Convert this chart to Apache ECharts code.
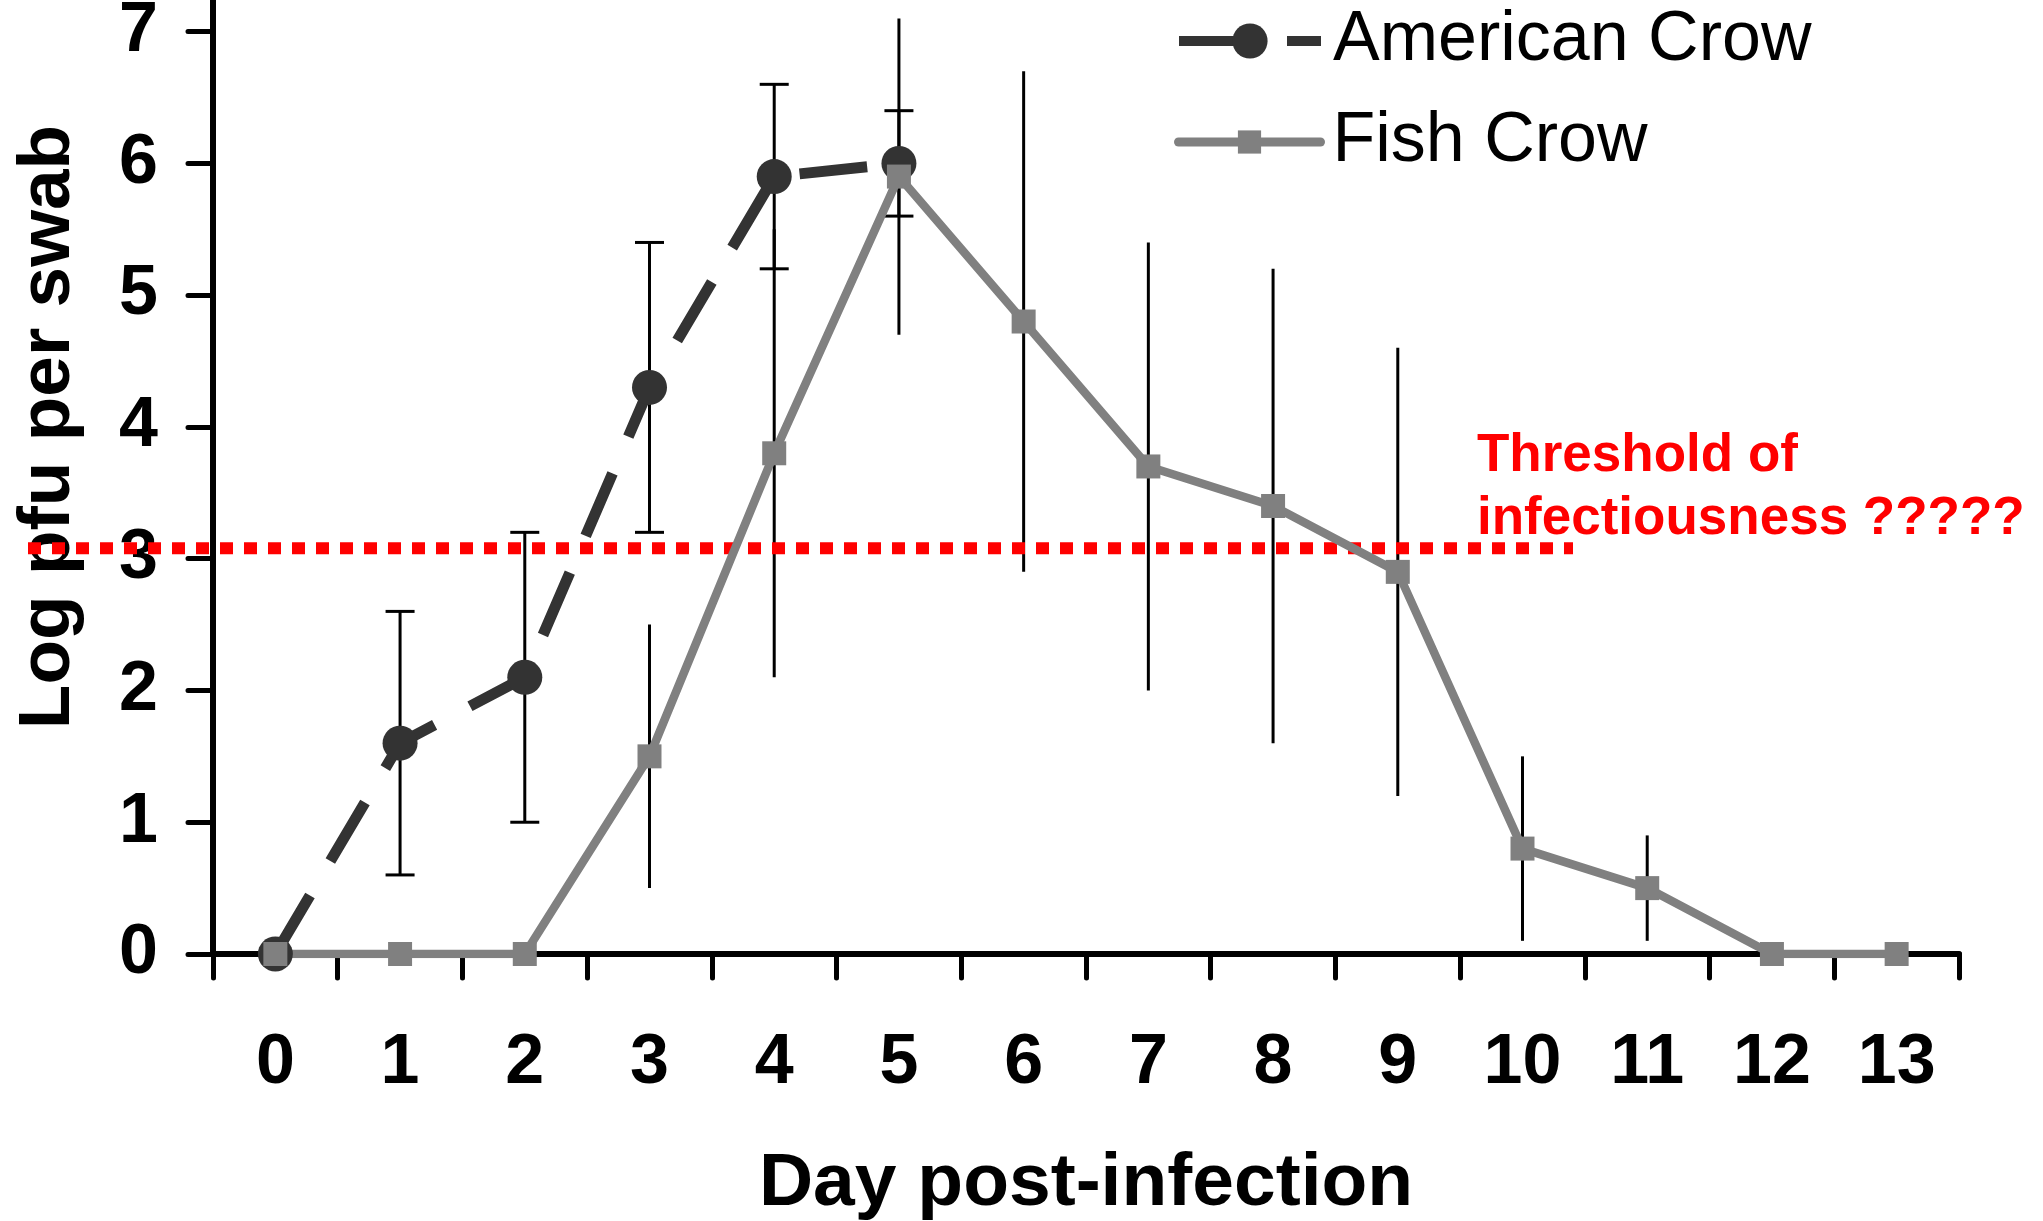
<!DOCTYPE html>
<html>
<head>
<meta charset="utf-8">
<script src="https://cdn.jsdelivr.net/npm/echarts@6/dist/echarts.min.js"></script>
<style>
  html, body { margin: 0; padding: 0; background: #fff; }
  #chart { width: 2043px; height: 1221px; }
</style>
</head>
<body>
<div id="chart"></div>
<script>
const days = ['0', '1', '2', '3', '4', '5', '6', '7', '8', '9', '10', '11', '12', '13'];
const americanCrow = [0, 1.6, 2.1, 4.3, 5.9, 6.0];
const americanCrowErr = [0, 1.0, 1.1, 1.1, 0.7, 0.4];
const fishCrow = [0, 0, 0, 1.5, 3.8, 5.9, 4.8, 3.7, 3.4, 2.9, 0.8, 0.5, 0, 0];
const fishCrowErr = [0, 0, 0, 1.0, 1.7, 1.2, 1.9, 1.7, 1.8, 1.7, 0.7, 0.4, 0, 0];
const threshold = 3.08;
const yTicks = [0, 1, 2, 3, 4, 5, 6, 7];

const FONT = '"Liberation Sans", Arial, sans-serif';

// error bars: [day, mean, err, hasCap]
const errBars = [];
americanCrow.forEach((v, i) => {
  if (americanCrowErr[i] > 0) errBars.push([i, v, americanCrowErr[i], 1]);
});
fishCrow.forEach((v, i) => {
  if (fishCrowErr[i] > 0) errBars.push([i, v, fishCrowErr[i], 0]);
});

const chart = echarts.init(document.getElementById('chart'));

const option = {
  animation: false,
  backgroundColor: '#fff',
  grid: {
    left: 213,
    right: 84,
    top: 0,
    bottom: 267,
    outerBoundsMode: 'none'
  },
  legend: [
    {
      data: ['American Crow'],
      left: 1169,
      top: 1,
      itemWidth: 142,
      itemHeight: 44,
      selectedMode: false,
      lineStyle: { width: 10 },
      textStyle: { fontSize: 70, color: '#000', fontFamily: FONT, padding: [0, 0, 0, 7] }
    },
    {
      data: ['Fish Crow'],
      left: 1169,
      top: 102,
      itemWidth: 142,
      itemHeight: 29,
      selectedMode: false,
      lineStyle: { width: 9 },
      textStyle: { fontSize: 70, color: '#000', fontFamily: FONT, padding: [0, 0, 0, 7] }
    }
  ],
  xAxis: {
    type: 'category',
    data: days,
    boundaryGap: true,
    axisLine: { show: true, lineStyle: { color: '#000', width: 6 } },
    axisTick: { show: true, alignWithLabel: false, interval: 0, length: 24, lineStyle: { color: '#000', width: 5, cap: 'round' } },
    axisLabel: { interval: 0, color: '#000', fontSize: 70, fontWeight: 'bold', fontFamily: FONT, margin: 75 },
    splitLine: { show: false },
    name: 'Day post-infection',
    nameLocation: 'middle',
    nameGap: 193,
    nameMoveOverlap: false,
    nameTextStyle: { color: '#000', fontSize: 75, fontWeight: 'bold', fontFamily: FONT }
  },
  yAxis: {
    type: 'value',
    min: 0,
    max: 7.24,
    interval: 1,
    axisLine: { show: true, lineStyle: { color: '#000', width: 6 } },
    axisTick: { show: true, length: 25, customValues: yTicks, lineStyle: { color: '#000', width: 5, cap: 'round' } },
    axisLabel: { customValues: yTicks, color: '#000', fontSize: 70, fontWeight: 'bold', fontFamily: FONT, margin: 55 },
    splitLine: { show: false },
    name: 'Log pfu per swab',
    nameLocation: 'middle',
    nameRotate: 90,
    nameGap: 128,
    nameMoveOverlap: false,
    nameTextStyle: { color: '#000', fontSize: 73, fontWeight: 'bold', fontFamily: FONT, padding: [0, 0, 0, 100] }
  },
  series: [
    {
      type: 'custom',
      name: 'errors',
      data: errBars,
      encode: { x: 0, y: 1 },
      renderItem: function (params, api) {
        const x = api.value(0);
        const v = api.value(1);
        const e = api.value(2);
        const hi = api.coord([x, v + e]);
        const lo = api.coord([x, v - e]);
        const st = { stroke: '#000', lineWidth: 3 };
        const children = [
          { type: 'line', shape: { x1: hi[0], y1: hi[1], x2: lo[0], y2: lo[1] }, style: st }
        ];
        if (api.value(3)) {
          children.push({ type: 'line', shape: { x1: hi[0] - 14.5, y1: hi[1], x2: hi[0] + 14.5, y2: hi[1] }, style: st });
          children.push({ type: 'line', shape: { x1: lo[0] - 14.5, y1: lo[1], x2: lo[0] + 14.5, y2: lo[1] }, style: st });
        }
        return { type: 'group', children: children };
      }
    },
    {
      name: 'American Crow',
      type: 'line',
      data: americanCrow,
      symbol: 'circle',
      symbolSize: 35,
      itemStyle: { color: '#333333' },
      lineStyle: { color: '#333333', width: 11, type: [68, 40] }
    },
    {
      name: 'Fish Crow',
      type: 'line',
      data: fishCrow,
      symbol: 'rect',
      symbolSize: 24,
      itemStyle: { color: '#808080' },
      lineStyle: { color: '#808080', width: 8.5, cap: 'round', join: 'round' }
    },
    {
      type: 'custom',
      name: 'threshold',
      data: [[0, threshold]],
      encode: { x: 0, y: 1 },
      clip: false,
      renderItem: function (params, api) {
        const y = api.coord([0, api.value(1)])[1];
        return {
          type: 'line',
          shape: { x1: 28, y1: y, x2: 1573, y2: y },
          style: { stroke: '#ff0000', lineWidth: 12, lineDash: [13, 11] }
        };
      }
    }
  ],
  graphic: [
    {
      type: 'text',
      left: 1477,
      top: 425,
      style: {
        text: 'Threshold of\ninfectiousness ?????',
        fill: '#ff0000',
        font: 'bold 53px ' + FONT,
        lineHeight: 63
      }
    }
  ]
};

chart.setOption(option);
window.addEventListener('resize', () => {
  chart.resize();
});
</script>
</body>
</html>
